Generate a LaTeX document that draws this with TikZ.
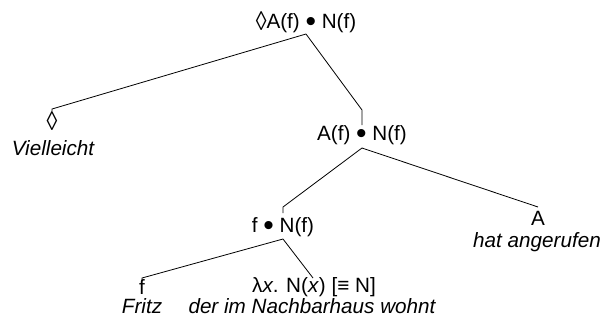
\documentclass[tikz,border=0pt]{standalone}
\usepackage{fontspec}
\setmainfont{Liberation Sans}
\newcommand{\bul}{\raisebox{-0.15em}{\scalebox{1.45}{•}}}
\newcommand{\loz}{\raisebox{-0.1em}{\scalebox{1.05}[1.3]{◊}}}
\begin{document}
\begin{tikzpicture}[x=0.75pt,y=-0.75pt,
  lbl/.style={inner sep=0pt,font=\fontsize{15.5}{18}\selectfont},
  wrd/.style={inner sep=0pt,font=\fontsize{15.5}{18}\selectfont\itshape},
  edge/.style={line width=0.6pt}]
\useasboundingbox (0,0) rectangle (606,325);
% nodes
\node[lbl] (top) at (306,22) {\loz A(f) \bul\ N(f)};
\node[lbl] (dia) at (52,121) {\loz};
\node[wrd] (viel) at (53,148) {Vielleicht};
\node[lbl] (afnf) at (362,135) {A(f) \bul\ N(f)};
\node[lbl] (fnf) at (283,227) {f \bul\ N(f)};
\node[lbl] (a) at (538,218) {A};
\node[wrd] (hat) at (537,242) {hat angerufen};
\node[lbl] (f) at (142,287) {f};
\node[wrd] (fritz) at (142,306) {Fritz};
\node[lbl] (lam) at (314,287) {λ\textit{x}. N(\textit{x}) [≡ N]};
\node[wrd] (der) at (312,306) {der im Nachbarhaus wohnt};
% junction coordinates
\coordinate (t0) at (306,34);
\coordinate (tl) at (52,109);
\coordinate (tle) at (52,111);
\coordinate (tr) at (362,110);
\coordinate (tre) at (362,125);
\coordinate (m0) at (362,148);
\coordinate (ml) at (283,207);
\coordinate (mle) at (283,213);
\coordinate (mr) at (538,207);
\coordinate (b0) at (283,239);
\coordinate (bl) at (142,278);
\coordinate (ble) at (142,281);
\coordinate (br) at (313,278);
% connectors
\draw[edge] (t0) -- (tl) -- (tle);
\draw[edge] (t0) -- (tr) -- (tre);
\draw[edge] (m0) -- (ml) -- (mle);
\draw[edge] (m0) -- (mr);
\draw[edge] (b0) -- (bl) -- (ble);
\draw[edge] (b0) -- (br);
\end{tikzpicture}
\end{document}
